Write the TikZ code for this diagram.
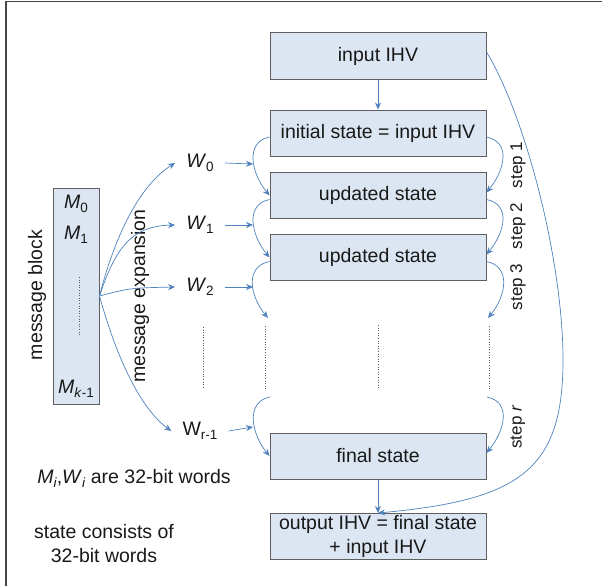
\documentclass[tikz,border=0pt]{standalone}
\usepackage{fontspec}
\setmainfont{Liberation Sans}
\usetikzlibrary{arrows.meta}
\definecolor{boxfill}{RGB}{220,230,242}
\definecolor{boxline}{RGB}{95,95,95}
\definecolor{arrblue}{RGB}{79,129,189}
\definecolor{txt}{RGB}{25,25,25}
\definecolor{framegray}{RGB}{70,70,70}
\newcommand{\subsc}[1]{\raisebox{-0.4ex}{\fontsize{13.5}{13.5}\selectfont #1}}
\begin{document}
\begin{tikzpicture}[x=1pt,y=-1pt,
  statebox/.style={draw=boxline, line width=1pt, fill=boxfill, minimum width=216pt, minimum height=46pt, inner sep=0pt, font=\fontsize{19.5}{23.5}\selectfont, text=txt, align=center},
  arr/.style={draw=arrblue, line width=0.7pt, -{Stealth[length=7pt,width=6pt]}},
  lbl/.style={font=\fontsize{19.5}{23.5}\selectfont, text=txt, inner sep=0pt, align=center},
  wlbl/.style={font=\fontsize{19.5}{23.5}\selectfont, text=txt, inner ysep=0pt, inner xsep=11pt},
  steplbl/.style={font=\fontsize{17}{19}\selectfont, text=txt, rotate=90, inner sep=0pt},
  dotline/.style={draw=gray!70!black, line width=1pt, dash pattern=on 1pt off 1.6pt}]
\useasboundingbox (0,0) rectangle (602,586);
\draw[framegray, line width=1.2pt] (6,586) -- (6,1.5) -- (602,1.5);

% state column
\node[statebox] (in) at (378,56) {input IHV};
\node[statebox] (s0) at (378,133) {initial state = input IHV};
\node[statebox] (s1) at (378,195.5) {updated state};
\node[statebox] (s2) at (378,257.5) {updated state};
\node[statebox] (sf) at (378,456) {final state};
\node[statebox] (out) at (378,536.5) {output IHV = final state\\+ input IHV};

% message block
\node[draw=boxline, line width=1pt, fill=boxfill, minimum width=46pt, minimum height=216pt, inner sep=0pt] (mb) at (76,296) {};
\node[lbl] (m0) at (76,204) {\textit{M}\subsc{0}};
\node[lbl] (m1) at (76,235) {\textit{M}\subsc{1}};
\node[lbl] (mk) at (76,389) {\textit{M}\subsc{\textit{k}-1}};
\coordinate (md1) at (79,277);
\coordinate (md2) at (79,336);
\draw[dotline] (md1) -- (md2);

\node[lbl, rotate=90] (mblab) at (37,295) {message block};
\node[lbl, rotate=90] (mexp) at (140,296) {message expansion};

% W labels
\node[wlbl] (w0) at (200,163) {\textit{W}\subsc{0}};
\node[wlbl] (w1) at (200,225) {\textit{W}\subsc{1}};
\node[wlbl] (w2) at (200,287) {\textit{W}\subsc{2}};
\node[wlbl] (wr) at (200,431) {W\subsc{r-1}};

% fan from message block
\draw[arr] (mb.east) .. controls (115,235) and (140,185) .. (w0.west);
\draw[arr] (mb.east) .. controls (115,250) and (130,226) .. (w1.west);
\draw[arr] (mb.east) .. controls (130,288) .. (w2.west);
\draw[arr] (mb.east) .. controls (120,370) and (145,412) .. (wr.west);

% W to step curves
\coordinate (j0) at (253,164);
\coordinate (j1) at (253,225);
\coordinate (j2) at (253,287);
\coordinate (jr) at (253,427);
\draw[arr] (w0.east) -- (j0);
\draw[arr] (w1.east) -- (j1);
\draw[arr] (w2.east) -- (j2);
\draw[arr] (wr.east) -- (jr);

\coordinate (d3l) at (268,318);
\coordinate (d3r) at (488,318);
\coordinate (drl) at (270,397);
\coordinate (drr) at (487,397);

\draw[arr] ([yshift=-4pt]s0.west) .. controls +(-25,5) and +(-18,-22) .. (s1.west);
\draw[arr] ([yshift=-4pt]s1.west) .. controls +(-25,5) and +(-18,-22) .. (s2.west);
\draw[arr] ([yshift=-4pt]s2.west) .. controls +(-25,5) and +(-18,-22) .. (d3l);
\draw[arr] (drl) .. controls +(-25,5) and +(-18,-22) .. (sf.west);

\draw[arr] ([yshift=-4pt]s0.east) .. controls +(25,5) and +(18,-22) .. ([yshift=3pt]s1.east);
\draw[arr] ([yshift=-4pt]s1.east) .. controls +(25,5) and +(18,-22) .. ([yshift=3pt]s2.east);
\draw[arr] ([yshift=-4pt]s2.east) .. controls +(25,5) and +(18,-22) .. (d3r);
\draw[arr] (drr) .. controls +(25,5) and +(18,-22) .. ([yshift=3pt]sf.east);

% step labels
\node[steplbl] (st1) at (518,165) {step 1};
\node[steplbl] (st2) at (518,226) {step 2};
\node[steplbl] (st3) at (518,287) {step 3};
\node[steplbl] (str) at (518,427) {step \textit{r}};

% dotted columns
\coordinate (c1a) at (203,327); \coordinate (c1b) at (203,389);
\coordinate (c2a) at (265,326); \coordinate (c2b) at (265,389);
\coordinate (c3a) at (378,325); \coordinate (c3b) at (378,388);
\coordinate (c4a) at (489,326); \coordinate (c4b) at (489,389);
\draw[dotline] (c1a) -- (c1b);
\draw[dotline] (c2a) -- (c2b);
\draw[dotline] (c3a) -- (c3b);
\draw[dotline] (c4a) -- (c4b);

% vertical arrows
\draw[arr] (in.south) -- (s0.north);
\draw[arr] (sf.south) -- (out.north);
\coordinate (bigmid) at (563,360);
\draw[arr] ([yshift=4pt]in.east) .. controls (525,115) and (563,260) .. (bigmid) .. controls (563,470) and (520,500) .. (out.north);

% notes
\node[lbl] (note1) at (134,478) {\textit{M}\subsc{\textit{i}},\textit{W}\subsc{\textit{i}} are 32-bit words};
\node[lbl] (note2) at (104,543.5) {state consists of\\32-bit words};
\end{tikzpicture}
\end{document}
